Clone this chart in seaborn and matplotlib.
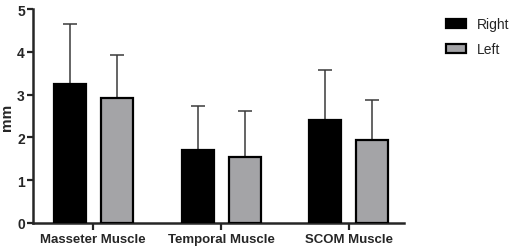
import pandas as pd
import matplotlib
matplotlib.use("Agg")
import matplotlib.pyplot as plt
import seaborn as sns

muscles = ["Masseter Muscle", "Temporal Muscle", "SCOM Muscle"]
sides = ["Right", "Left"]
right_mean = [3.25, 1.70, 2.41]
right_sd = [1.41, 1.04, 1.17]
left_mean = [2.92, 1.53, 1.95]
left_sd = [1.01, 1.08, 0.93]

df = pd.DataFrame({
    "muscle": muscles * 2,
    "side": ["Right"] * 3 + ["Left"] * 3,
    "mean": right_mean + left_mean,
    "sd": right_sd + left_sd,
})

sns.set_style("ticks")
plt.rcParams["font.family"] = ["Liberation Sans", "DejaVu Sans"]

fig = plt.figure(figsize=(5.1, 2.53), dpi=100)
ax = fig.add_axes([0.065, 0.115, 0.727, 0.845])

palette = {"Right": "#000000", "Left": "#a4a3a8"}
sns.barplot(data=df, x="muscle", y="mean", hue="side", hue_order=sides,
            order=muscles, palette=palette, errorbar=None, width=0.735,
            gap=0.32, edgecolor="black", linewidth=1.6, ax=ax, zorder=3)

# one-sided (upward) SD error bars
for cont, side in zip(ax.containers, sides):
    sub = df[df["side"] == side].set_index("muscle").loc[muscles]
    xs = [p.get_x() + p.get_width() / 2 for p in cont.patches]
    ax.errorbar(xs, sub["mean"], yerr=[[0] * 3, sub["sd"]], fmt="none",
                ecolor="#3a3a3a", elinewidth=1.1, capsize=5.2,
                capthick=1.1, zorder=2)

ax.set_ylim(0, 5)
ax.set_xlim(-0.47, 2.43)
ax.set_yticks(range(6))
ax.set_xlabel("")
ax.set_ylabel("mm", fontsize=11, fontweight="bold", labelpad=2)
ax.tick_params(axis="y", labelsize=10, width=1.6, length=4, pad=2)
ax.tick_params(axis="x", labelsize=9.5, width=1.6, length=5, pad=2)
for lab in ax.get_xticklabels() + ax.get_yticklabels():
    lab.set_fontweight("bold")
for s in ["left", "bottom"]:
    ax.spines[s].set_linewidth(1.8)
sns.despine(ax=ax)

handles, labels = ax.get_legend_handles_labels()
ax.legend(handles, labels, loc="upper left", bbox_to_anchor=(1.08, 1.02),
          frameon=False, handlelength=1.4, handleheight=0.6,
          labelspacing=0.8, prop={"size": 10})

fig.savefig("out.png", dpi=100)
